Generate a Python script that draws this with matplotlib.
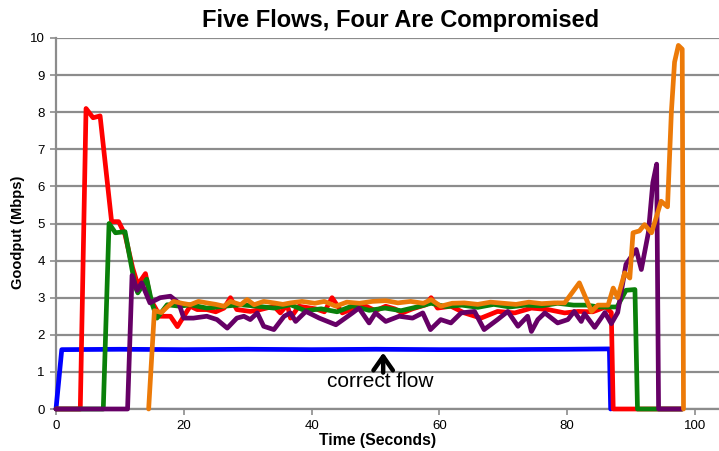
import matplotlib
matplotlib.use("Agg")
import matplotlib.pyplot as plt

# time (s) and goodput (Mbps) per flow
blue_t = [0, 0.9, 10, 20, 30, 40, 50, 60, 70, 80, 86.6, 86.8]
blue_v = [0, 1.6, 1.61, 1.6, 1.61, 1.6, 1.61, 1.6, 1.6, 1.61, 1.62, 0]

red_t = [0, 3.8, 4.7, 5.8, 6.9, 8.7, 9.8, 10.8, 12.0, 12.8, 14.0, 14.8, 16.3, 17.9, 19.0,
         20.0, 21.0, 22.1, 23.6, 25.0, 26.3, 27.3, 28.3, 30.4, 32.0, 34.1, 35.1, 36.2, 36.7,
         38.0, 40.6, 42.0, 43.2, 44.8, 46.4, 48.5, 50.0, 51.6, 53.0, 54.2, 55.8, 57.9, 58.7,
         59.7, 61.8, 63.9, 66.5, 69.1, 71.8, 74.4, 77.0, 79.6, 81.7, 84.0, 86.0, 86.9, 87.2, 98.0]
red_v = [0, 0, 8.1, 7.85, 7.9, 5.05, 5.05, 4.7, 3.8, 3.35, 3.65, 2.95, 2.5, 2.5, 2.22,
         2.5, 2.77, 2.68, 2.68, 2.62, 2.72, 3.0, 2.68, 2.63, 2.68, 2.77, 2.59, 2.81, 2.45,
         2.77, 2.7, 2.62, 3.0, 2.59, 2.7, 2.77, 2.65, 2.77, 2.7, 2.59, 2.7, 2.81, 3.0,
         2.72, 2.77, 2.59, 2.45, 2.63, 2.59, 2.72, 2.68, 2.59, 2.63, 2.62, 2.75, 2.6, 0, 0]

green_t = [0, 7.4, 8.3, 9.3, 10.8, 12.4, 12.8, 14.2, 15.0, 15.8, 17.4, 19.4, 21.0, 23.6, 26.3,
           28.9, 31.5, 34.1, 36.7, 39.0, 41.5, 44.0, 46.4, 49.0, 51.5, 54.0, 56.5, 58.7, 61.0,
           63.5, 66.0, 68.5, 71.0, 73.5, 76.0, 78.5, 81.0, 83.0, 85.0, 87.8, 89.2, 90.6, 91.0, 98.0]
green_v = [0, 0, 5.0, 4.75, 4.78, 3.3, 3.13, 3.5, 2.86, 2.45, 2.81, 2.77, 2.81, 2.72, 2.77,
           2.81, 2.77, 2.72, 2.81, 2.65, 2.7, 2.62, 2.78, 2.66, 2.72, 2.65, 2.75, 2.85, 2.76,
           2.8, 2.74, 2.82, 2.75, 2.8, 2.78, 2.85, 2.8, 2.8, 2.75, 2.75, 3.2, 3.22, 0, 0]

purple_t = [0, 11.2, 11.9, 12.7, 13.4, 14.7, 16.3, 17.9, 19.2, 20.0, 21.5, 23.6, 25.2, 26.8,
            28.3, 29.4, 30.4, 31.5, 32.5, 34.1, 35.7, 36.7, 37.5, 39.1, 41.2, 43.8, 46.4, 47.4,
            49.0, 50.0, 51.6, 53.7, 55.8, 57.4, 58.6, 60.2, 61.8, 63.4, 65.5, 67.0, 69.1, 70.7,
            72.3, 73.8, 74.4, 75.4, 76.5, 78.5, 80.1, 81.1, 82.2, 82.7, 84.3, 85.9, 86.9, 87.9,
            89.2, 90.0, 90.8, 91.6, 92.7, 93.4, 94.0, 94.3, 98.0]
purple_v = [0, 0, 3.6, 3.2, 3.4, 2.86, 3.0, 3.04, 2.86, 2.45, 2.45, 2.5, 2.41, 2.18,
            2.45, 2.5, 2.41, 2.59, 2.23, 2.14, 2.5, 2.59, 2.36, 2.63, 2.45, 2.27, 2.59, 2.72,
            2.32, 2.59, 2.36, 2.5, 2.45, 2.59, 2.14, 2.41, 2.32, 2.59, 2.63, 2.14, 2.41, 2.63,
            2.23, 2.5, 2.09, 2.41, 2.59, 2.32, 2.41, 2.63, 2.36, 2.57, 2.2, 2.6, 2.3, 2.6,
            3.9, 4.1, 4.3, 3.76, 4.75, 6.1, 6.6, 0, 0]

orange_t = [14.5, 15.4, 16.5, 17.4, 18.4, 19.7, 21.0, 22.3, 23.6, 25.0, 26.3, 27.3, 28.9, 29.9,
            31.0, 32.5, 34.1, 35.5, 36.7, 38.5, 40.5, 42.0, 43.8, 45.5, 47.5, 49.5, 51.6, 53.5,
            55.5, 57.5, 58.7, 60.2, 62.0, 63.9, 66.0, 68.0, 70.0, 72.0, 74.0, 76.0, 78.0, 79.6,
            81.9, 83.8, 84.8, 86.4, 87.2, 87.9, 89.0, 89.8, 90.3, 91.3, 92.1, 93.2, 94.7, 95.7,
            96.3, 96.8, 97.4, 98.0, 98.2]
orange_v = [0, 2.65, 2.6, 2.75, 2.9, 2.85, 2.81, 2.9, 2.86, 2.82, 2.77, 2.9, 2.81, 2.95,
            2.81, 2.9, 2.86, 2.82, 2.86, 2.9, 2.85, 2.9, 2.77, 2.88, 2.85, 2.9, 2.92, 2.86,
            2.9, 2.85, 2.95, 2.77, 2.85, 2.86, 2.82, 2.88, 2.85, 2.82, 2.88, 2.84, 2.86, 2.86,
            3.4, 2.63, 2.8, 2.8, 3.26, 3.0, 3.67, 3.53, 4.75, 4.8, 4.97, 4.75, 5.6, 5.45,
            8.0, 9.35, 9.8, 9.7, 0]

x_ticks = [0, 20, 40, 60, 80, 100]
y_ticks = list(range(0, 11))

plt.rcParams['font.family'] = ['Liberation Sans', 'DejaVu Sans']

fig = plt.figure(figsize=(7.19, 4.51), dpi=100)
ax = fig.add_axes([56/719, 42/451, 1 - 56/719, 371/451])

gray = '#8c8c8c'
lw = 3.4
series = [(blue_t, blue_v, '#0000ff'),
          (red_t, red_v, '#ff0000'),
          (green_t, green_v, '#0a800a'),
          (purple_t, purple_v, '#660066'),
          (orange_t, orange_v, '#ec7a08')]
for t, v, c in series:
    ax.plot(t, v, color=c, lw=lw, solid_joinstyle='round', solid_capstyle='round',
            clip_on=False, zorder=3)

ax.set_xlim(0, 663/6.39)
ax.set_ylim(0, 10)
ax.set_xticks(x_ticks)
ax.set_yticks(y_ticks)
ax.yaxis.grid(True, color=gray, lw=1.6)
ax.set_axisbelow(True)
ax.spines['top'].set_visible(False)
ax.spines['right'].set_visible(False)
ax.spines['left'].set_color(gray)
ax.spines['bottom'].set_color(gray)
ax.spines['left'].set_linewidth(1.6)
ax.spines['bottom'].set_linewidth(1.6)
ax.tick_params(colors=gray, labelcolor='black', length=4, width=1.2, labelsize=9.5, pad=4)

ax.annotate('', xy=(51.2, 1.52), xytext=(51.2, 0.98),
            arrowprops=dict(arrowstyle='->,head_width=0.7,head_length=1.0', lw=3.2,
                            color='black', shrinkA=0, shrinkB=0), zorder=4)
ax.text(50.8, 0.73, 'correct flow', ha='center', va='center', fontsize=15)

fig.text(401/719, 1 - 20/451, 'Five Flows, Four Are Compromised', ha='center', va='center',
         fontsize=17, fontweight='bold')
fig.text(378/719, 1 - 440/451, 'Time (Seconds)', ha='center', va='center',
         fontsize=11.3, fontweight='bold')
fig.text(18/719, 1 - 232/451, 'Goodput (Mbps)', ha='center', va='center', rotation=90,
         fontsize=10.5, fontweight='bold')

fig.savefig('out.png', dpi=100)
